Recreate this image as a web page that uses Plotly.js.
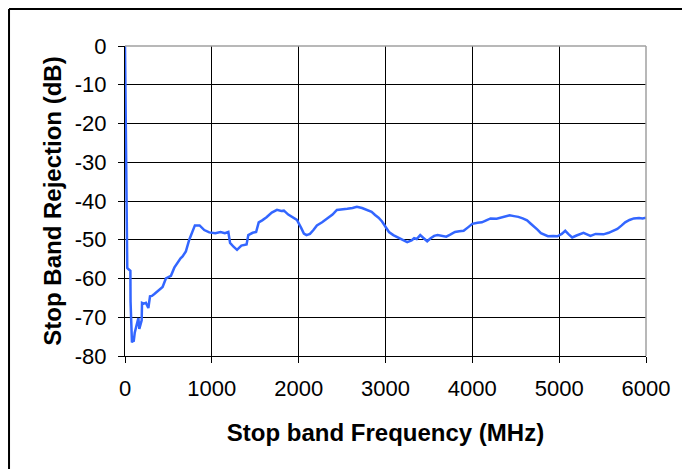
<!DOCTYPE html>
<html>
<head>
<meta charset="utf-8">
<script src="https://cdn.plot.ly/plotly-3.0.1.min.js"></script>
<style>
  html, body { margin: 0; padding: 0; background: #ffffff; }
  #chart { width: 682px; height: 469px; }
</style>
</head>
<body>
<div id="chart"></div>
<script>
// Frequency (MHz)
const frequencyMHz = [
  0, 12, 18, 23, 26, 35, 50, 62, 64, 70, 80, 90, 100, 112, 127, 154, 165, 185, 192, 196,
  215, 241, 269, 288, 310, 338, 365, 395, 433, 471, 500, 529, 568, 606, 640, 663, 701, 740,
  778, 805, 859, 913, 970, 1040, 1100, 1150, 1190, 1210, 1250, 1290, 1340, 1400, 1420, 1470,
  1510, 1540, 1580, 1630, 1690, 1750, 1800, 1830, 1880, 1930, 1980, 2030, 2060, 2090, 2130,
  2170, 2210, 2270, 2330, 2390, 2440, 2500, 2560, 2620, 2670, 2730, 2790, 2840, 2880, 2920,
  2960, 3000, 3040, 3090, 3140, 3200, 3250, 3300, 3330, 3360, 3400, 3440, 3480, 3520, 3560,
  3600, 3650, 3700, 3745, 3800, 3850, 3900, 3950, 4000, 4060, 4110, 4160, 4210, 4280, 4350,
  4430, 4480, 4530, 4580, 4630, 4670, 4710, 4750, 4790, 4830, 4870, 4930, 4980, 5030, 5070,
  5110, 5150, 5200, 5280, 5320, 5360, 5420, 5510, 5570, 5620, 5670, 5720, 5760, 5810, 5860,
  5920, 5960, 6000
];
// Stop band rejection (dB)
const rejectionDB = [
  0, -23, -35, -50, -57.3, -57.5, -57.8, -58, -66, -73.5, -76.5, -76, -76.3, -74, -72.5, -70.2, -73, -71, -70.8, -66.3,
  -66.5, -66.3, -67.6, -64.6, -64.5, -64, -63.5, -63, -62.2, -60, -59.6, -59.3, -57.2, -55.8, -54.8, -54.3, -53, -50,
  -47.5, -46.3, -46.3, -47.5, -48.1, -48.3, -48, -48.3, -48, -50.8, -51.8, -52.6, -51.5, -51.2, -48.8, -48.2,
  -48, -45.5, -45, -44.2, -43, -42.3, -42.6, -42.5, -43.5, -44.2, -44.9, -47, -48.4, -48.8, -48.5,
  -47.5, -46.3, -45.5, -44.5, -43.5, -42.3, -42.2, -42, -41.8, -41.5, -41.8, -42.4, -42.8, -43.6, -44.3,
  -45.3, -46.5, -48, -48.8, -49.4, -50, -50.6, -50.2, -49.6, -49.8, -48.8, -49.6, -50.4, -49.6, -49,
  -48.8, -49, -49.2, -48.7, -48, -47.8, -47.7, -46.8, -45.9, -45.6, -45.5, -45, -44.5, -44.6, -44.1,
  -43.7, -43.9, -44.1, -44.5, -45, -45.8, -46.5, -47.4, -48.3, -48.8, -49.1, -49, -49.1, -48.5, -47.7,
  -48.6, -49.4, -48.9, -48.2, -48.6, -49, -48.5, -48.6, -48.2, -47.6, -47.2, -46.3, -45.5, -44.9, -44.5,
  -44.4, -44.5, -44.3
];
const xTickValues = [0, 1000, 2000, 3000, 4000, 5000, 6000];
const xTickLabels = ['0', '1000', '2000', '3000', '4000', '5000', '6000'];
const yTickValues = [0, -10, -20, -30, -40, -50, -60, -70, -80];
const yTickLabels = ['0', '-10', '-20', '-30', '-40', '-50', '-60', '-70', '-80'];

const fontFamily = '"Liberation Sans", Arial, sans-serif';

const trace = {
  x: frequencyMHz,
  y: rejectionDB,
  type: 'scatter',
  mode: 'lines',
  line: { color: 'rgb(51,102,255)', width: 2.5 },
  hoverinfo: 'skip'
};

const axisCommon = {
  showgrid: true,
  gridcolor: '#000000',
  gridwidth: 1,
  showline: true,
  linecolor: '#000000',
  linewidth: 1,
  ticks: 'outside',
  ticklen: 6,
  tickcolor: '#000000',
  tickwidth: 1,
  zeroline: false,
  fixedrange: true,
  tickfont: { family: fontFamily, size: 22, color: '#000000' }
};

const layout = {
  width: 682,
  height: 469,
  margin: { l: 125, r: 36, t: 46, b: 113 },
  paper_bgcolor: '#ffffff',
  plot_bgcolor: '#ffffff',
  showlegend: false,
  xaxis: Object.assign({}, axisCommon, {
    range: [0, 6000],
    tickmode: 'array',
    tickvals: xTickValues,
    ticktext: xTickLabels,
    ticklabelstandoff: 7,
    title: {
      text: 'Stop band Frequency (MHz)',
      font: { family: fontFamily, size: 24, color: '#000000', weight: 'bold' },
      standoff: 23
    }
  }),
  yaxis: Object.assign({}, axisCommon, {
    range: [-80, 0],
    tickmode: 'array',
    tickvals: yTickValues,
    ticktext: yTickLabels,
    ticklabelstandoff: 7,
    title: {
      text: 'Stop Band Rejection (dB)',
      font: { family: fontFamily, size: 24, color: '#000000', weight: 'bold' },
      standoff: 6
    }
  }),
  shapes: [
    // plot-area top and right border in grey
    { type: 'line', xref: 'paper', yref: 'paper', x0: 0, x1: 1, y0: 1, y1: 1,
      line: { color: '#a0a0a0', width: 1.5 }, layer: 'above' },
    { type: 'line', xref: 'paper', yref: 'paper', x0: 1, x1: 1, y0: 0, y1: 1,
      line: { color: '#a0a0a0', width: 1.5 }, layer: 'above' },
    // outer chart frame (left and top)
    { type: 'line', xref: 'paper', yref: 'paper', x0: -0.2226, x1: -0.2226, y0: -0.37, y1: 1.119,
      line: { color: '#000000', width: 2 }, layer: 'above' },
    { type: 'line', xref: 'paper', yref: 'paper', x0: -0.2226, x1: 1.08, y0: 1.119, y1: 1.119,
      line: { color: '#000000', width: 2 }, layer: 'above' }
  ]
};

Plotly.newPlot('chart', [trace], layout, { displayModeBar: false, staticPlot: true });
</script>
</body>
</html>
